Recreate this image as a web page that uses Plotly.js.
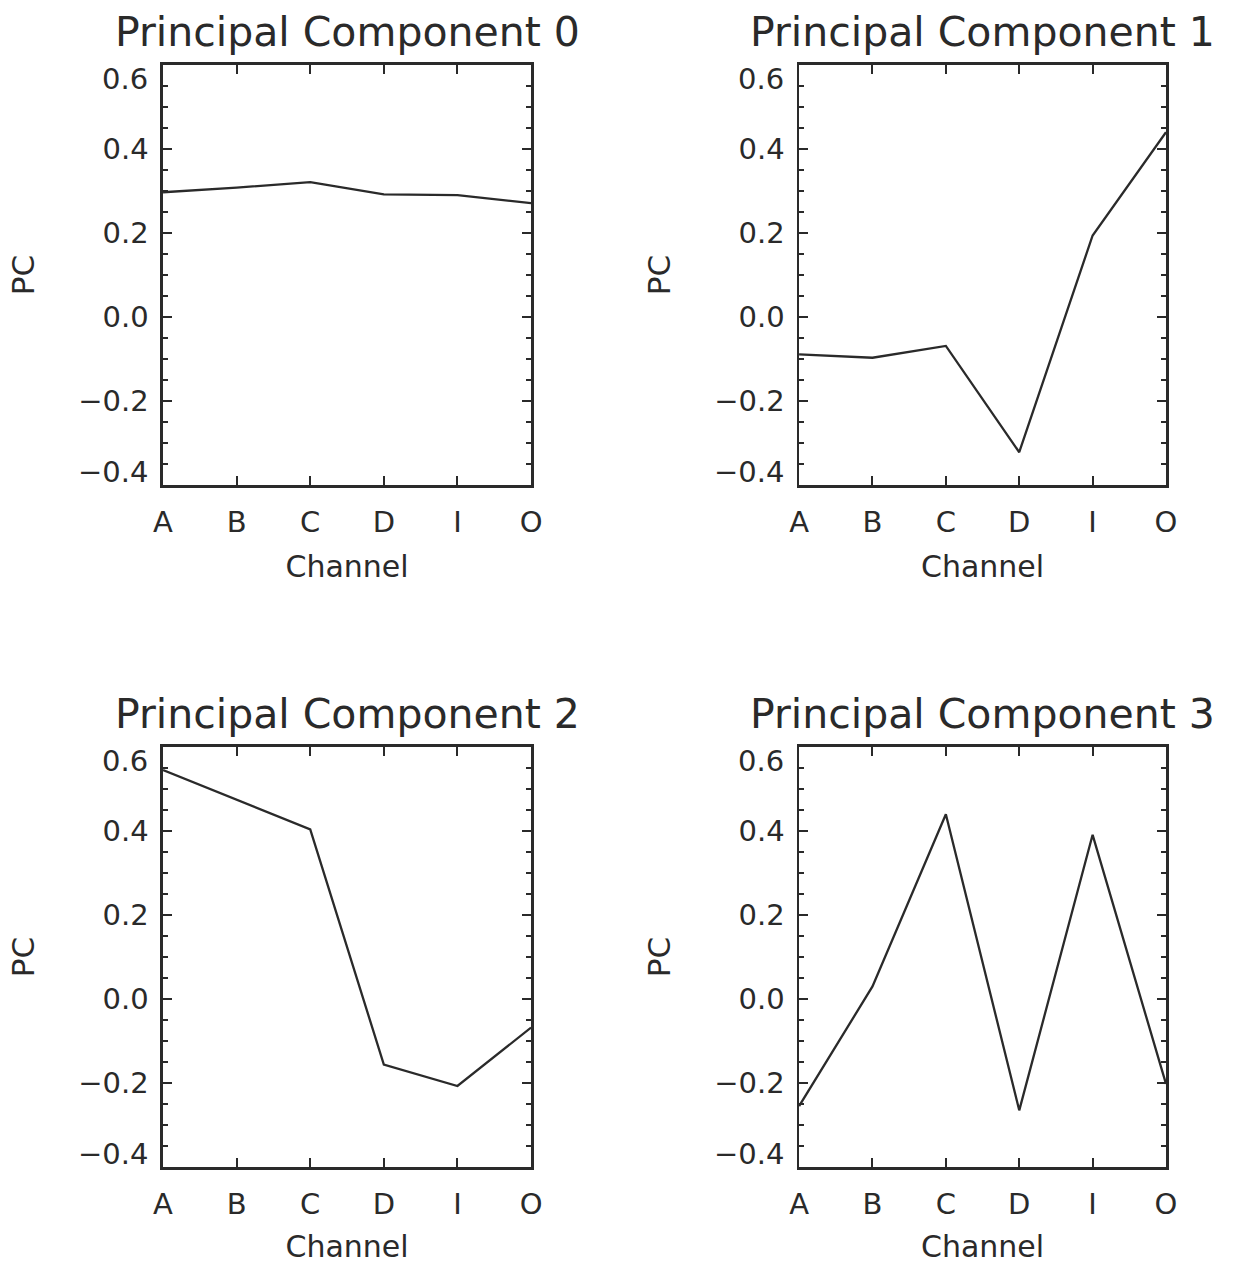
<!DOCTYPE html>
<html>
<head>
<meta charset="utf-8">
<script src="https://cdn.plot.ly/plotly-3.0.1.min.js"></script>
<style>
html,body{margin:0;padding:0;background:#fff;}
#chart{width:1237px;height:1264px;}
</style>
</head>
<body>
<div id="chart"></div>
<script>
// ---- data ----
const channels = ['A', 'B', 'C', 'D', 'I', 'O'];
const pc0 = [0.297, 0.308, 0.321, 0.292, 0.290, 0.271];
const pc1 = [-0.089, -0.097, -0.069, -0.322, 0.194, 0.440];
const pc2 = [0.545, 0.474, 0.404, -0.156, -0.207, -0.068];
const pc3 = [-0.255, 0.030, 0.440, -0.265, 0.391, -0.202];
const yTickValues = [-0.4, -0.2, 0.0, 0.2, 0.4, 0.6];
const yTickLabels = ['\u22120.4', '\u22120.2', '0.0', '0.2', '0.4', '0.6'];
const panelTitles = ['Principal Component 0', 'Principal Component 1', 'Principal Component 2', 'Principal Component 3'];
const xTitle = 'Channel';
const yTitle = 'PC';

// ---- styling ----
const FONT = 'DejaVu Sans, sans-serif';
const INK = '#2a2a2a';
const TICK_SIZE = 29;
const series = [pc0, pc1, pc2, pc3];

const xDomains = [[0.1318, 0.4293], [0.6460, 0.9426], [0.1318, 0.4293], [0.6460, 0.9426]];
const yDomains = [[0.6163, 0.9486], [0.6163, 0.9486], [0.0767, 0.4090], [0.0767, 0.4090]];

const traces = series.map((vals, i) => ({
  type: 'scatter',
  mode: 'lines',
  x: channels,
  y: vals,
  xaxis: i === 0 ? 'x' : 'x' + (i + 1),
  yaxis: i === 0 ? 'y' : 'y' + (i + 1),
  line: {color: INK, width: 2.3},
  hoverinfo: 'skip',
  showlegend: false
}));

const layout = {
  width: 1237,
  height: 1264,
  margin: {l: 0, r: 0, t: 0, b: 0},
  paper_bgcolor: '#ffffff',
  plot_bgcolor: '#ffffff',
  font: {family: FONT, color: INK},
  showlegend: false,
  annotations: []
};

// inner tick labels drawn by the axis; the two end labels sit a little inside the frame
const innerText = yTickLabels.map((t, k) => (k === 0 || k === yTickLabels.length - 1) ? '' : t);

for (let i = 0; i < 4; i++) {
  const xs = i === 0 ? '' : String(i + 1);
  layout['xaxis' + xs] = {
    domain: xDomains[i],
    anchor: 'y' + xs,
    type: 'category',
    categoryarray: channels,
    range: [0, 5],
    showgrid: false,
    zeroline: false,
    showline: true,
    linecolor: INK,
    linewidth: 2.6,
    mirror: 'ticks',
    ticks: 'inside',
    ticklen: 9,
    tickwidth: 2,
    tickcolor: INK,
    tickfont: {family: FONT, size: TICK_SIZE, color: INK},
    ticklabelstandoff: 10,
    title: {text: xTitle, font: {family: FONT, size: 30, color: INK}, standoff: 18},
    fixedrange: true
  };
  layout['yaxis' + xs] = {
    domain: yDomains[i],
    anchor: 'x' + xs,
    range: [-0.4, 0.6],
    tickmode: 'array',
    tickvals: yTickValues,
    ticktext: innerText,
    showgrid: false,
    zeroline: false,
    showline: true,
    linecolor: INK,
    linewidth: 2.6,
    mirror: 'ticks',
    ticks: 'inside',
    ticklen: 9,
    tickwidth: 2,
    tickcolor: INK,
    minor: {dtick: 0.05, tick0: 0, ticks: 'inside', ticklen: 5, tickwidth: 1.5, tickcolor: INK, showgrid: false},
    tickfont: {family: FONT, size: TICK_SIZE, color: INK},
    ticklabelstandoff: 6,
    title: {text: yTitle, font: {family: FONT, size: 31, color: INK}, standoff: 35},
    fixedrange: true
  };
  // end labels of the y axis
  [[0, 13], [yTickValues.length - 1, -14]].forEach(([k, shift]) => {
    layout.annotations.push({
      text: yTickLabels[k],
      xref: 'x' + xs + ' domain',
      yref: 'y' + xs,
      x: 0,
      y: yTickValues[k],
      xanchor: 'right',
      yanchor: 'middle',
      xshift: -14,
      yshift: shift,
      showarrow: false,
      borderpad: 0,
      font: {family: FONT, size: TICK_SIZE, color: INK}
    });
  });
  layout.annotations.push({
    text: panelTitles[i],
    xref: 'x' + xs + ' domain',
    yref: 'y' + xs + ' domain',
    x: 0.5,
    y: 1,
    xanchor: 'center',
    yanchor: 'bottom',
    yshift: 7,
    showarrow: false,
    font: {family: FONT, size: 41, color: INK}
  });
}

Plotly.newPlot('chart', traces, layout, {staticPlot: true, displayModeBar: false});
</script>
</body>
</html>
